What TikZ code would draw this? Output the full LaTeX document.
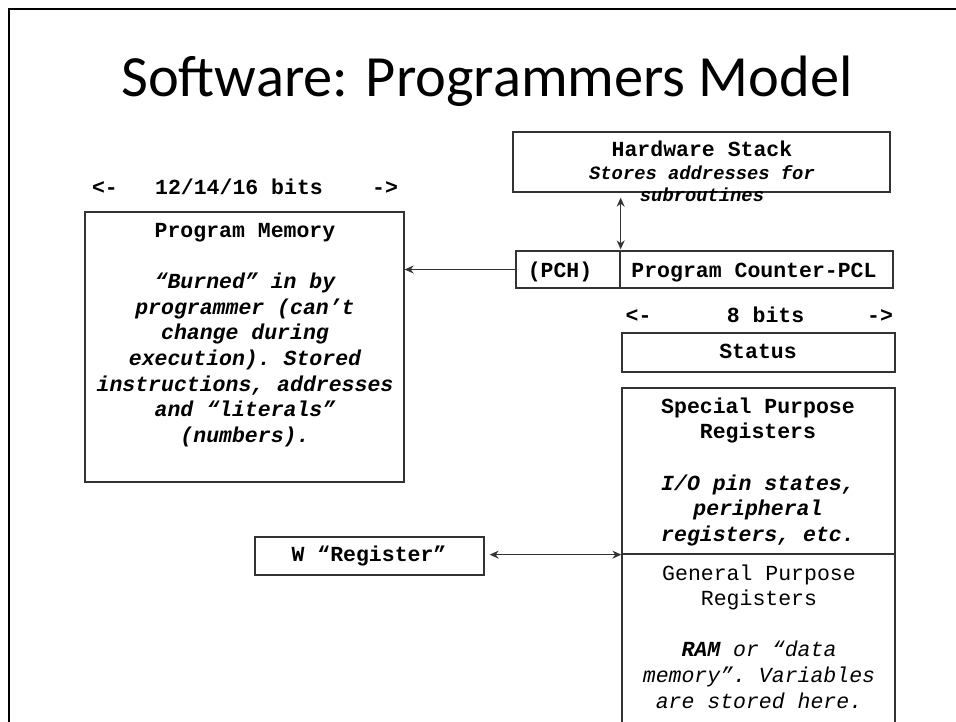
\documentclass[tikz,border=0pt]{standalone}
\usepackage{fontspec}
\usetikzlibrary{arrows.meta}
\newfontfamily\cour{Liberation Mono}
\newfontfamily\titlefont{Carlito}
\newcommand\crs{\cour\frenchspacing}
\definecolor{edge}{HTML}{333333}
\begin{document}
\begin{tikzpicture}[x=1pt,y=-1pt,
  box/.style={draw=edge, line width=1.3pt, inner sep=0pt},
  lbl/.style={font=\crs\fontsize{21.5}{25.7}\selectfont\bfseries, align=center, inner sep=0pt, anchor=base},
  note/.style={font=\crs\fontsize{21.5}{25.7}\selectfont\bfseries\itshape, align=center, inner sep=0pt, anchor=base},
  tip/.tip={Stealth[length=9pt,width=8pt]},
  arr/.style={line width=1.2pt, draw=edge, -tip},
  darr/.style={line width=1.2pt, draw=edge, tip-tip}]
\useasboundingbox (0,0) rectangle (956,721);
\clip (0,0) rectangle (956,721);

% slide frame
\draw[line width=2pt] (9,9) rectangle (1000,800);

% title
\node[font=\titlefont\fontsize{58.4}{66}\selectfont, anchor=base, inner sep=0pt] (title) at (487,96) {Software: Programmers Model};

% boxes
\node[box, minimum width=319pt, minimum height=270pt] (pm) at (244.5,347) {};
\node[box, minimum width=377pt, minimum height=60pt] (hs) at (701.5,162) {};
\node[box, minimum width=104pt, minimum height=37pt] (pch) at (568,269.5) {};
\node[box, minimum width=273pt, minimum height=37pt] (pcl) at (756.5,269.5) {};
\node[box, minimum width=273pt, minimum height=39pt] (status) at (758.5,352.5) {};
\node[box, minimum width=273pt, minimum height=166pt] (spr) at (758.5,471) {};
\node[box, minimum width=273pt, minimum height=206pt] (gpr) at (758.5,657) {};
\node[box, minimum width=229pt, minimum height=38pt] (wreg) at (369.5,556) {};

% width markers
\node[lbl] (pmL) at (105,194) {<-};
\node[lbl] (pmW) at (239,194) {12/14/16 bits};
\node[lbl] (pmR) at (385,194) {->};
\node[lbl] (rgL) at (638.5,322) {<-};
\node[lbl] (rgW) at (765.5,322) {8 bits};
\node[lbl] (rgR) at (880,322) {->};

% box texts (anchored at the baseline of their last line)
\node[note] (pmtext) at (245,442.6) {\upshape Program Memory\\[25.7pt]
  “Burned” in by\\ programmer (can’t\\ change during\\ execution). Stored\\
  instructions, addresses\\ and “literals”\\ (numbers).};
\node[lbl] (hstitle) at (702,156.7) {Hardware Stack};
\node[note, font=\crs\fontsize{18.8}{22.6}\selectfont\bfseries\itshape] (hsnote) at (702,201.6) {Stores addresses for\\ subroutines};
\node[lbl] (pchtext) at (560,277) {(PCH)};
\node[lbl] (pcltext) at (754,277) {Program Counter-PCL};
\node[lbl] (sttext) at (758,358) {Status};
\node[note] (sprtext) at (758,541.5) {\upshape Special Purpose\\ \upshape Registers\\[25.7pt]
  I/O pin states,\\ peripheral\\ registers, etc.};
\node[note, font=\crs\fontsize{21.5}{25.6}\selectfont\itshape] (gprtext) at (759,708) {\upshape General Purpose\\ \upshape Registers\\[25.6pt]
  \bfseries RAM\mdseries{} or “data\\ memory”. Variables\\ are stored here.};
\node[lbl] (wtext) at (369,561) {W “Register”};

% connectors
\draw[arr] (pch.west) -- (pch.west -| pm.east);
\draw[darr, shorten <=5pt, shorten >=1pt] (hs.south -| pch.east) -- (pch.north east);
\draw[darr, shorten <=5pt] (spr.south west -| wreg.east) -- (spr.south west);
\end{tikzpicture}
\end{document}
